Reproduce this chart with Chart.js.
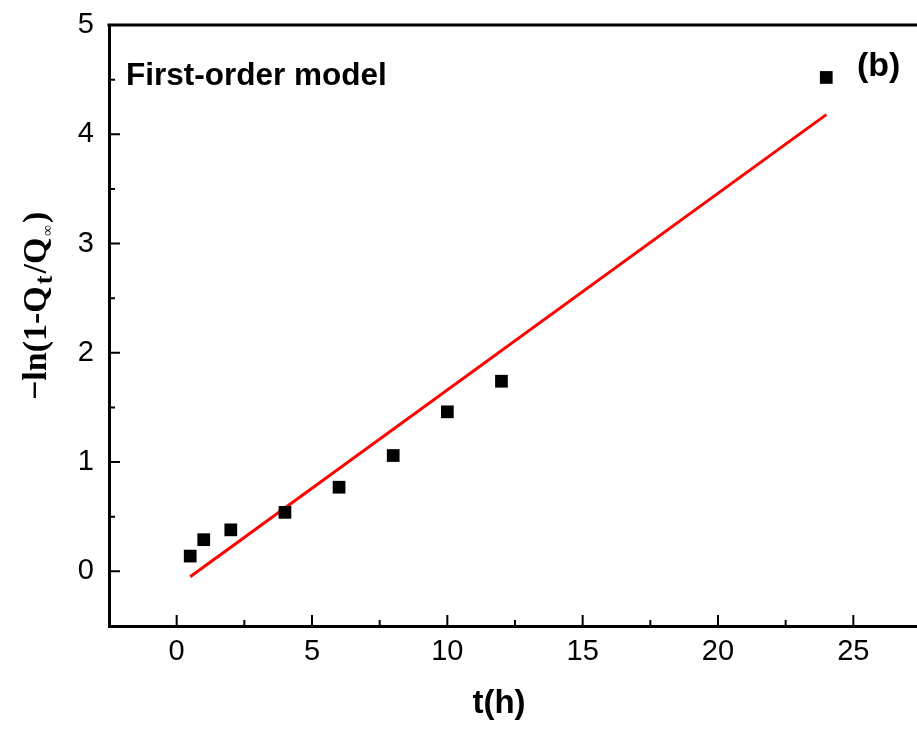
<!DOCTYPE html>
<html>
<head>
<meta charset="utf-8">
<script src="https://cdn.jsdelivr.net/npm/chart.js@4"></script>
<style>
    html, body { margin: 0; padding: 0; background: #fff; overflow: hidden; }
    #wrap { position: absolute; left: 0; top: 0; width: 921px; height: 731px; }
</style>
</head>
<body>
<div id="wrap"><canvas id="chart" width="921" height="731"></canvas></div>
<script>
// measured points, t in hours
const tValues = [0.5, 1, 2, 4, 6, 8, 10, 12, 24];
const lnValues = [0.14, 0.29, 0.38, 0.54, 0.77, 1.06, 1.46, 1.74, 4.52];

// first-order fit line (end points)
const fitT = [0.5, 24];
const fitLn = [-0.05, 4.18];

const xTicks = [0, 5, 10, 15, 20, 25];
const xMinorTicks = [2.5, 7.5, 12.5, 17.5, 22.5];
const yTicks = [0, 1, 2, 3, 4, 5];
const yMinorTicks = [-0.5, 0.5, 1.5, 2.5, 3.5, 4.5];

const sans = '"Liberation Sans", Arial, Helvetica, sans-serif';
const serif = '"Liberation Serif", "Times New Roman", serif';

// inward ticks, top frame line, titles and labels
const framePlugin = {
    id: 'frame',
    afterDraw(chart) {
        const ctx = chart.ctx;
        const area = chart.chartArea;
        const xs = chart.scales.x, ys = chart.scales.y;
        ctx.save();
        ctx.strokeStyle = '#000';
        ctx.lineWidth = 3;
        ctx.beginPath();
        ctx.moveTo(area.left - 1.5, area.top);
        ctx.lineTo(area.right, area.top);
        ctx.stroke();

        ctx.lineWidth = 2;
        ctx.beginPath();
        xTicks.forEach(v => {
            const px = xs.getPixelForValue(v);
            ctx.moveTo(px, area.bottom);
            ctx.lineTo(px, area.bottom - 11);
        });
        xMinorTicks.forEach(v => {
            const px = xs.getPixelForValue(v);
            ctx.moveTo(px, area.bottom);
            ctx.lineTo(px, area.bottom - 6);
        });
        yTicks.forEach(v => {
            const py = ys.getPixelForValue(v);
            ctx.moveTo(area.left, py);
            ctx.lineTo(area.left + 11, py);
        });
        yMinorTicks.forEach(v => {
            const py = ys.getPixelForValue(v);
            ctx.moveTo(area.left, py);
            ctx.lineTo(area.left + 6, py);
        });
        ctx.stroke();

        ctx.fillStyle = '#000';
        ctx.textBaseline = 'alphabetic';
        ctx.textAlign = 'left';
        ctx.font = 'bold 31.5px ' + sans;
        ctx.fillText('First-order model', area.left + 17, 85);
        ctx.font = 'bold 34px ' + sans;
        ctx.fillText('(b)', 857, 76);

        ctx.font = 'bold 33px ' + sans;
        ctx.textAlign = 'center';
        ctx.fillText('t(h)', 499, 713);

        // y title, rotated, with subscripts
        ctx.translate(46, 400);
        ctx.rotate(-Math.PI / 2);
        ctx.textAlign = 'left';
        const big = 'bold 34px ' + serif;
        const sub = 'bold 26px ' + serif;
        const tiny = 'bold 15px ' + serif;
        const parts = [
            [big, '−ln(1-Q', 0],
            [sub, 't', 6],
            [big, '/Q', 0],
            [tiny, '∞', 6],
            [big, ')', 0]
        ];
        let x = 0;
        parts.forEach(p => {
            ctx.font = p[0];
            ctx.fillText(p[1], x, p[2]);
            x += ctx.measureText(p[1]).width + 2;
        });
        ctx.restore();
    }
};

new Chart(document.getElementById('chart'), {
    type: 'scatter',
    data: {
        datasets: [{
            type: 'scatter',
            data: tValues.map((t, i) => ({x: t, y: lnValues[i]})),
            pointStyle: 'rect',
            pointRadius: 9,
            pointHoverRadius: 9,
            backgroundColor: '#000',
            borderWidth: 0
        }, {
            type: 'line',
            data: fitT.map((t, i) => ({x: t, y: fitLn[i]})),
            borderColor: '#ff0000',
            borderWidth: 3,
            pointRadius: 0,
            fill: false,
            tension: 0
        }]
    },
    options: {
        responsive: false,
        animation: false,
        devicePixelRatio: 1,
        layout: {autoPadding: false, padding: {top: 25, left: 0, right: 0, bottom: 0}},
        plugins: {
            legend: {display: false},
            tooltip: {enabled: false}
        },
        scales: {
            x: {
                type: 'linear',
                min: -2.5,
                max: 27.5,
                afterFit: s => {
                    s.height = 105;
                    s.paddingLeft = 0;
                    s.paddingRight = 0;
                },
                afterBuildTicks: s => { s.ticks = xTicks.map(v => ({value: v})); },
                grid: {display: false, drawTicks: false},
                border: {display: true, color: '#000', width: 3},
                ticks: {
                    color: '#000',
                    font: {family: sans, size: 29},
                    padding: 9,
                    maxRotation: 0
                }
            },
            y: {
                type: 'linear',
                min: -0.5,
                max: 5,
                afterFit: s => {
                    s.width = 109;
                    s.paddingTop = 0;
                    s.paddingBottom = 0;
                },
                afterBuildTicks: s => { s.ticks = yTicks.map(v => ({value: v})); },
                grid: {display: false, drawTicks: false},
                border: {display: true, color: '#000', width: 3},
                ticks: {
                    color: '#000',
                    font: {family: sans, size: 29},
                    padding: 15
                }
            }
        }
    },
    plugins: [framePlugin]
});
</script>
</body>
</html>
